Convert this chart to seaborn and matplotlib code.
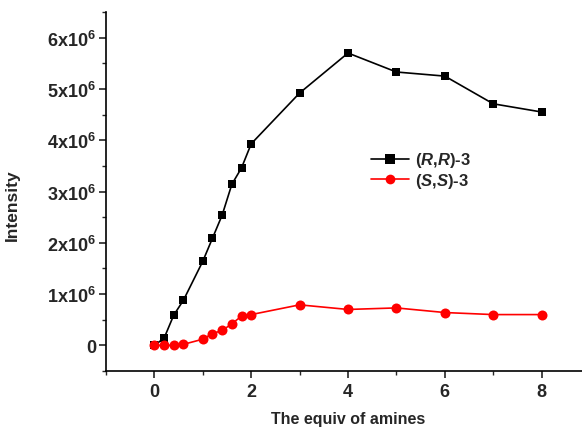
import numpy as np
import pandas as pd
import matplotlib
matplotlib.use("Agg")
import matplotlib.pyplot as plt
from matplotlib.ticker import MultipleLocator, FuncFormatter
import seaborn as sns

# Titration data: amine equivalents vs. emission intensity
equiv = [0, 0.2, 0.4, 0.6, 1.0, 1.2, 1.4, 1.6, 1.8, 2, 3, 4, 5, 6, 7, 8]
rr_intensity = [0.0, 0.14e6, 0.59e6, 0.88e6, 1.64e6, 2.09e6, 2.54e6, 3.14e6,
                3.46e6, 3.93e6, 4.92e6, 5.70e6, 5.33e6, 5.25e6, 4.71e6, 4.55e6]
ss_intensity = [0.0, 0.0, 0.0, 0.02e6, 0.12e6, 0.23e6, 0.29e6, 0.42e6,
                0.57e6, 0.60e6, 0.79e6, 0.70e6, 0.73e6, 0.64e6, 0.60e6, 0.60e6]
series_names = [r"($\mathbfit{R}$,$\mathbfit{R}$)-3",
                r"($\mathbfit{S}$,$\mathbfit{S}$)-3"]

df = pd.DataFrame({
    "equiv": equiv * 2,
    "intensity": rr_intensity + ss_intensity,
    "series": [series_names[0]] * len(equiv) + [series_names[1]] * len(equiv),
})

sns.set_style("ticks")
plt.rcParams["font.family"] = ["Liberation Sans", "DejaVu Sans"]
plt.rcParams["font.weight"] = "bold"
plt.rcParams["mathtext.fontset"] = "custom"
plt.rcParams["mathtext.rm"] = "Liberation Sans:bold"
plt.rcParams["mathtext.bf"] = "Liberation Sans:bold"
plt.rcParams["mathtext.it"] = "Liberation Sans:italic:bold"
plt.rcParams["mathtext.bfit"] = "Liberation Sans:italic:bold"
plt.rcParams["mathtext.default"] = "bf"

fig = plt.figure(figsize=(5.82, 4.31), dpi=100)
ax = fig.add_axes([106 / 582, 59 / 431, 484 / 582, 359 / 431])

sns.lineplot(data=df, x="equiv", y="intensity", hue="series", style="series",
             palette=["#000000", "#ff0000"], markers=["s", "o"], dashes=False,
             markersize=7, markeredgewidth=0, linewidth=1.2, ax=ax)

# Circles drawn a little larger than the squares
for line, ms in zip(ax.lines[:2], [6.0, 7.2]):
    line.set_markersize(ms)

ax.set_xlim(-1, 9)
ax.set_ylim(-0.5e6, 6.5e6)
ax.xaxis.set_major_locator(MultipleLocator(2))
ax.xaxis.set_minor_locator(MultipleLocator(1))
ax.yaxis.set_major_locator(MultipleLocator(1e6))
ax.yaxis.set_minor_locator(MultipleLocator(0.5e6))


def sci_fmt(v, pos):
    n = int(round(v / 1e6))
    return "0" if n == 0 else rf"{n}x10$^{{6}}$"


ax.yaxis.set_major_formatter(FuncFormatter(sci_fmt))
ax.tick_params(axis="both", which="major", length=5, width=1.2,
               labelsize=13, direction="out")
ax.tick_params(axis="y", which="major", pad=2)
ax.tick_params(axis="x", which="major", pad=4)
ax.tick_params(axis="both", which="minor", length=3, width=1.0, direction="out")
for lab in ax.get_xticklabels() + ax.get_yticklabels():
    lab.set_fontweight("bold")

for side in ("top", "right"):
    ax.spines[side].set_visible(False)
for side in ("left", "bottom"):
    ax.spines[side].set_linewidth(1.2)
    ax.spines[side].set_color("black")

ax.set_xlabel("The equiv of amines", fontsize=11.5, fontweight="bold")
ax.set_ylabel("Intensity", fontsize=12.5, fontweight="bold")
ax.xaxis.set_label_coords((348 - 106) / 484, -(412 - 372) / 359)
ax.yaxis.set_label_coords(-(106 - 20) / 484, (372 - 205) / 359)

handles, labels = ax.get_legend_handles_labels()
ax.legend(handles, labels, loc="center left", frameon=False,
          bbox_to_anchor=(364 / 582, 1 - 171 / 431), bbox_transform=fig.transFigure,
          fontsize=12, handlelength=2.3, handletextpad=0.35, labelspacing=0.08,
          borderaxespad=0)

fig.savefig("out.png", dpi=100)
